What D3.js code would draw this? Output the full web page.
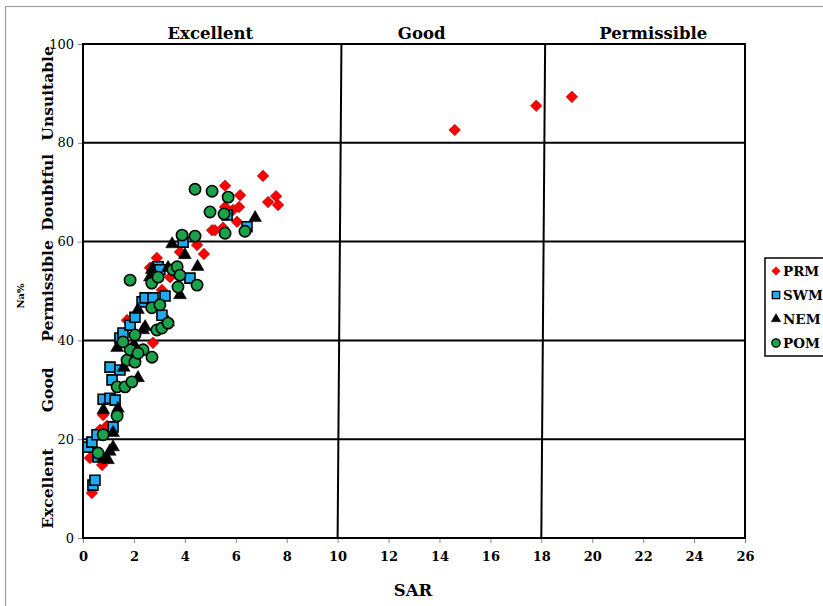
<!DOCTYPE html>
<html><head><meta charset="utf-8">
<script src="https://cdn.jsdelivr.net/npm/d3@7"></script>
<style>body{margin:0;background:#fff}svg{display:block}</style>
</head><body>
<script>
const xTicks = [0,2,4,6,8,10,12,14,16,18,20,22,24,26];
const yTicks = [0,20,40,60,80,100];
const zoneLinesX = [10,18];
const topLabels = [{t:"Excellent",x:5},{t:"Good",x:13.3},{t:"Permissible",x:22.4}];
const leftLabels = [{t:"Unsuitable",y:90},{t:"Doubtful",y:70},{t:"Permissible",y:50},{t:"Good",y:30},{t:"Excellent",y:10}];
const seriesNames = ["PRM","SWM","NEM","POM"];

const PRM = [[0.35,9.1],[0.27,16.2],[0.75,14.8],[0.67,21.9],[0.94,22.7],[0.79,24.9],[1.73,44.1],[2.75,39.5],[2.63,54.7],[2.75,54.9],[2.9,56.7],[3.1,50.2],[3.42,52.8],[3.81,57.9],[4.48,59.3],[4.75,57.5],[5.07,62.3],[5.18,62.3],[5.5,62.8],[6.05,64.0],[5.89,66.4],[5.58,67.0],[6.13,67.0],[6.17,69.4],[5.58,71.3],[7.07,73.3],[7.58,69.2],[7.27,68.0],[7.66,67.4],[14.6,82.6],[17.8,87.5],[19.2,89.3]];
const SWM = [[0.39,10.7],[0.47,11.7],[0.2,18.4],[0.35,19.4],[0.55,20.9],[0.59,16.4],[0.79,28.1],[1.06,28.3],[1.26,27.9],[1.18,22.5],[1.06,34.6],[1.45,34.0],[1.14,32.0],[1.45,40.5],[1.57,41.5],[1.85,43.1],[2.04,44.7],[2.32,47.8],[2.44,48.6],[2.75,48.6],[3.22,49.0],[3.1,45.1],[2.95,54.9],[3.02,54.3],[4.2,52.6],[3.93,59.9],[5.66,65.4],[6.44,63.0]];
const NEM = [[0.79,16.2],[0.98,15.8],[1.05,17.5],[1.18,18.4],[1.18,21.3],[0.8,25.9],[1.37,26.2],[1.6,34.5],[1.85,36.4],[2.16,32.4],[1.34,38.5],[2.0,39.2],[2.36,42.1],[2.44,42.7],[2.16,46.2],[3.34,43.7],[2.63,52.8],[3.81,49.2],[2.7,54.3],[3.34,54.7],[4.5,54.9],[3.5,59.5],[4.0,57.3],[6.76,64.8]];
const POM = [[0.59,17.2],[0.79,20.9],[1.34,24.7],[1.34,30.6],[1.65,30.6],[1.92,31.6],[1.73,36.0],[2.04,35.6],[1.85,38.1],[2.36,38.1],[2.16,37.4],[2.71,36.6],[1.57,39.7],[2.04,41.1],[2.9,42.1],[3.1,42.5],[3.34,43.5],[2.7,46.6],[3.02,47.2],[1.85,52.2],[2.7,51.6],[2.95,52.8],[3.53,54.3],[3.7,54.9],[3.81,53.2],[3.73,50.8],[4.48,51.2],[3.89,61.3],[4.4,61.1],[4.4,70.6],[5.07,70.2],[5.7,69.0],[4.99,66.0],[5.54,65.6],[6.36,62.1],[5.58,61.7]];

const W=823,H=606;
const svg=d3.select("body").append("svg").attr("width",W).attr("height",H);
const font="'DejaVu Serif', serif";
svg.append("rect").attr("x",5.5).attr("y",6.5).attr("width",900).attr("height",700).attr("fill","#fff").attr("stroke","#a0a0a0").attr("stroke-width",1.2);

const x=d3.scaleLinear().domain([0,26]).range([83,745]);
const y=d3.scaleLinear().domain([0,100]).range([538,44]);

const xa=svg.append("g").attr("transform",`translate(0,${y(0)})`).call(d3.axisBottom(x).tickValues(xTicks).tickSize(5).tickSizeOuter(0).tickPadding(9));
xa.select(".domain").remove();
xa.selectAll("line").attr("stroke","#888").attr("stroke-width",1);
xa.selectAll("text").attr("font-family",font).attr("font-weight","bold").attr("font-size",13).attr("fill","#000");
const ya=svg.append("g").attr("transform",`translate(${x(0)},0)`).call(d3.axisLeft(y).tickValues(yTicks).tickSize(5).tickSizeOuter(0).tickPadding(4));
ya.select(".domain").remove();
ya.selectAll("line").attr("stroke","#888").attr("stroke-width",1);
ya.selectAll("text").attr("font-family",font).attr("font-size",13).attr("fill","#000");

const g=svg.append("g").attr("stroke","#000").attr("stroke-width",2);
[20,40,60,80].forEach(v=>g.append("line").attr("x1",x(0)).attr("x2",x(26)).attr("y1",y(v)).attr("y2",y(v)));
zoneLinesX.forEach(v=>g.append("line").attr("x1",x(v)).attr("x2",x(v+0.15)).attr("y1",y(0)).attr("y2",y(100)));
g.append("rect").attr("x",x(0)).attr("y",y(100)).attr("width",x(26)-x(0)).attr("height",y(0)-y(100)).attr("fill","none");

topLabels.forEach(d=>svg.append("text").attr("x",x(d.x)).attr("y",y(100)-5).attr("text-anchor","middle").attr("font-family",font).attr("font-weight","bold").attr("font-size",16.5).text(d.t));
leftLabels.forEach(d=>svg.append("text").attr("transform",`translate(53,${y(d.y)}) rotate(-90)`).attr("text-anchor","middle").attr("font-family",font).attr("font-weight","bold").attr("font-size",15.5).text(d.t));
svg.append("text").attr("transform",`translate(24,296) rotate(-90)`).attr("text-anchor","middle").attr("font-family",font).attr("font-weight","bold").attr("font-size",10).text("Na%");
svg.append("text").attr("x",413).attr("y",596).attr("text-anchor","middle").attr("font-family",font).attr("font-weight","bold").attr("font-size",16.5).text("SAR");

const styles={
  PRM:{sym:d3.symbolDiamond2,size:85,fill:"#ff0000",stroke:"#a00000",sw:0.6},
  SWM:{sym:d3.symbolSquare,size:100,fill:"#1eaaee",stroke:"#000",sw:1.6},
  NEM:{sym:d3.symbolTriangle,size:72,fill:"#000",stroke:"#000",sw:0.5},
  POM:{sym:d3.symbolCircle,size:100,fill:"#1aa34a",stroke:"#000",sw:1.6}
};
const data={PRM,SWM,NEM,POM};
seriesNames.forEach(n=>{
  const s=styles[n];
  svg.append("g").selectAll("path").data(data[n]).join("path")
    .attr("transform",d=>`translate(${x(d[0])},${y(d[1])})`)
    .attr("d",d3.symbol(s.sym,s.size)).attr("fill",s.fill).attr("stroke",s.stroke).attr("stroke-width",s.sw);
});

const lg=svg.append("g");
lg.append("rect").attr("x",765).attr("y",258).attr("width",80).attr("height",98).attr("fill","#fff").attr("stroke","#000").attr("stroke-width",1.5);
seriesNames.forEach((n,i)=>{
  const s=styles[n]; const cy=271+i*24;
  lg.append("path").attr("transform",`translate(776,${cy})`).attr("d",d3.symbol(s.sym,s.size*0.55)).attr("fill",s.fill).attr("stroke",s.stroke).attr("stroke-width",s.sw*0.8);
  lg.append("text").attr("x",783).attr("y",cy+5).attr("font-family",font).attr("font-weight","bold").attr("font-size",13.5).text(n);
});
</script>
</body></html>
